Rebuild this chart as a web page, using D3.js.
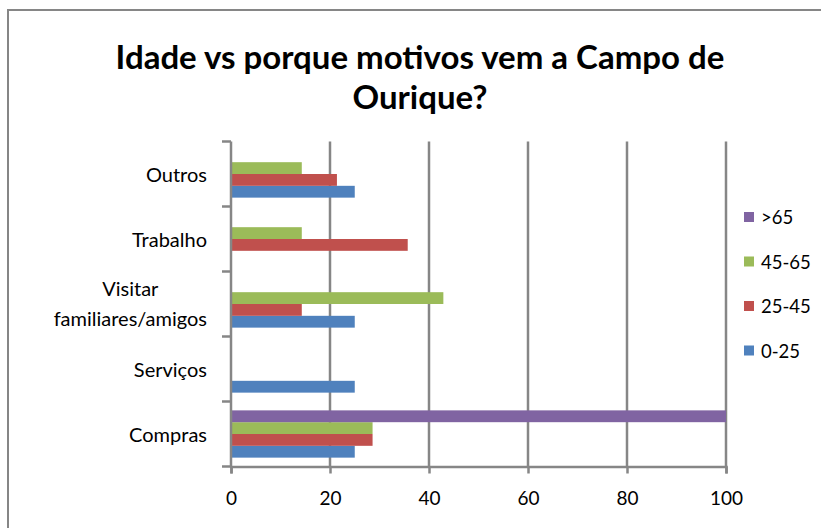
<!DOCTYPE html>
<html>
<head>
<meta charset="utf-8">
<script src="https://cdn.jsdelivr.net/npm/d3@7"></script>
<style>
  html, body { margin: 0; padding: 0; background: #fff; }
  svg { display: block; }
  text { font-family: Lato, "Open Sans", "DejaVu Sans", sans-serif; fill: #000; }
</style>
</head>
<body>
<svg id="chart" width="821" height="528"></svg>
<script>
// Reasons for visiting Campo de Ourique, by age group (percent)
const categories = ["Compras", "Serviços", "Visitar familiares/amigos", "Trabalho", "Outros"];
const series = ["0-25", "25-45", "45-65", ">65"];
const values0to25  = [25, 25, 25, 0, 25];
const values25to45 = [28.6, 0, 14.3, 35.7, 21.4];
const values45to65 = [28.6, 0, 42.9, 14.3, 14.3];
const valuesOver65 = [100, 0, 0, 0, 0];
const xTicks = [0, 20, 40, 60, 80, 100];
const colors = ["#4F81BD", "#C0504D", "#9BBB59", "#8064A2"];
const titleLines = ["Idade vs porque motivos vem a Campo de", "Ourique?"];

const seriesValues = [values0to25, values25to45, values45to65, valuesOver65];
const rows = [];
categories.forEach((c, i) => {
  series.forEach((s, j) => rows.push({ category: c, series: s, value: seriesValues[j][i], idx: j }));
});

const svg = d3.select("#chart");
const W = 821, H = 528;
const gridColor = "#868686";

// outer chart frame
svg.append("rect")
  .attr("x", 8).attr("y", 10)
  .attr("width", W + 20).attr("height", H + 20)
  .attr("fill", "#fff")
  .attr("stroke", gridColor).attr("stroke-width", 2);

// title
svg.append("g").selectAll("text")
  .data(titleLines)
  .join("text")
  .attr("x", 420)
  .attr("y", (d, i) => 69 + i * 40)
  .attr("text-anchor", "middle")
  .attr("font-weight", "bold")
  .attr("font-size", 33)
  .text(d => d);

const plot = { left: 231, right: 726, top: 141.5, bottom: 466.5 };

const x = d3.scaleLinear().domain([0, 100]).range([plot.left, plot.right]);

// categories run bottom to top
const y = d3.scaleBand()
  .domain(categories)
  .range([plot.bottom, plot.top])
  .paddingInner(1.5 / 5.5)
  .paddingOuter(0.75 / 5.5);

// first series sits at the bottom of each group
const ySub = d3.scaleBand()
  .domain(series)
  .range([y.bandwidth(), 0]);

// vertical gridlines
svg.append("g").selectAll("line")
  .data(xTicks.slice(1))
  .join("line")
  .attr("x1", d => x(d)).attr("x2", d => x(d))
  .attr("y1", plot.top).attr("y2", plot.bottom)
  .attr("stroke", gridColor).attr("stroke-width", 2.5);

// bars
svg.append("g").selectAll("rect")
  .data(rows.filter(d => d.value > 0))
  .join("rect")
  .attr("x", x(0))
  .attr("y", d => y(d.category) + ySub(d.series))
  .attr("width", d => x(d.value) - x(0))
  .attr("height", ySub.bandwidth())
  .attr("fill", d => colors[d.idx]);

// x axis
const xAxis = d3.axisBottom(x).tickValues(xTicks).tickSize(7).tickPadding(18);
const gx = svg.append("g")
  .attr("transform", `translate(0,${plot.bottom})`)
  .call(xAxis);
gx.select(".domain").attr("stroke", gridColor).attr("stroke-width", 2.5);
gx.selectAll(".tick line").attr("stroke", gridColor).attr("stroke-width", 2.5);
gx.selectAll(".tick text")
  .attr("font-family", "Lato, 'Open Sans', sans-serif")
  .attr("font-size", 19).attr("fill", "#000");

// y axis: ticks at category boundaries
const bounds = d3.range(categories.length + 1).map(i => plot.bottom - i * (plot.bottom - plot.top) / categories.length);
const gy = svg.append("g");
gy.append("line")
  .attr("x1", plot.left).attr("x2", plot.left)
  .attr("y1", plot.top).attr("y2", plot.bottom)
  .attr("stroke", gridColor).attr("stroke-width", 2.5);
gy.selectAll(".ytick")
  .data(bounds)
  .join("line")
  .attr("class", "ytick")
  .attr("x1", plot.left - 9).attr("x2", plot.left)
  .attr("y1", d => d).attr("y2", d => d)
  .attr("stroke", gridColor).attr("stroke-width", 2.5);

// category labels, wrapped where Excel wraps them
const labelLines = { "Visitar familiares/amigos": ["Visitar", "familiares/amigos"] };
const lblG = gy.selectAll(".ylabel")
  .data(categories)
  .join("text")
  .attr("class", "ylabel")
  .attr("font-size", 20)
  .attr("text-anchor", "end")
  .attr("x", 207)
  .attr("y", d => y(d) + y.bandwidth() / 2)
  .attr("dominant-baseline", "central");
lblG.each(function (d) {
  const lines = labelLines[d];
  const t = d3.select(this);
  if (!lines) { t.text(d); return; }
  t.attr("dominant-baseline", null).attr("text-anchor", "middle");
  const cy = y(d) + y.bandwidth() / 2;
  const rightEdge = 207;
  t.selectAll("tspan")
    .data(lines)
    .join("tspan")
    .attr("x", 0)
    .attr("y", (l, i) => cy - 15 + i * 30 + 7)
    .text(l => l);
  // centre both lines on the wider line, which is right-aligned
  const bb = this.getBBox();
  const mid = rightEdge - bb.width / 2;
  t.selectAll("tspan").attr("x", mid);
});

// legend
const legendSeries = series.slice().reverse();
const lg = svg.append("g").selectAll("g")
  .data(legendSeries)
  .join("g")
  .attr("transform", (d, i) => `translate(744,${217 + i * 44.5})`);
lg.append("rect")
  .attr("x", 0).attr("y", -5).attr("width", 10).attr("height", 10)
  .attr("fill", d => colors[series.indexOf(d)]);
lg.append("text")
  .attr("x", 17).attr("y", 0)
  .attr("dominant-baseline", "central")
  .attr("font-size", 18.5)
  .text(d => d);
</script>
</body>
</html>
